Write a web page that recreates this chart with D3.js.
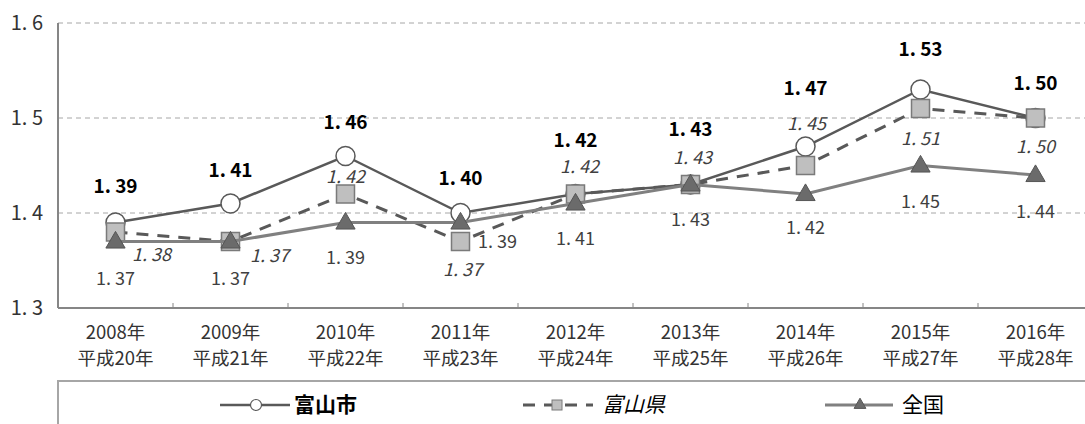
<!DOCTYPE html>
<html>
<head>
<meta charset="utf-8">
<script src="https://cdn.jsdelivr.net/npm/d3@7"></script>
<style>
  body { margin: 0; background: #fff; }
  svg { display: block; font-family: "Noto Sans CJK JP", sans-serif; }
</style>
</head>
<body>
<svg id="chart"></svg>
<script>
const size = {w: 1085, h: 424};

// categories
const years = ['2008年', '2009年', '2010年', '2011年', '2012年', '2013年', '2014年', '2015年', '2016年'];
const eras = ['平成20年', '平成21年', '平成22年', '平成23年', '平成24年', '平成25年', '平成26年', '平成27年', '平成28年'];

// series values
const toyamaCity = [1.39, 1.41, 1.46, 1.40, 1.42, 1.43, 1.47, 1.53, 1.50];
const toyamaPref = [1.38, 1.37, 1.42, 1.37, 1.42, 1.43, 1.45, 1.51, 1.50];
const national = [1.37, 1.37, 1.39, 1.39, 1.41, 1.43, 1.42, 1.45, 1.44];

const yTicks = [1.3, 1.4, 1.5, 1.6];

// label offsets (dx, dy) from each point, as Excel placed them
const cityLabelDy = [-36, -33, -34, -35, -54, -55, -58, -40, -35];
const prefLabelPos = [[36, 23], [39, 14], [0, -17], [2, 28], [4, -27], [2, -27], [1, -42], [0, 30], [0, 29]];
const natLabelPos = [[0, 37], [0, 37], [0, 35], [37, 19], [0, 35], [0, 35], [0, 34], [0, 36], [0, 37]];

const svg = d3.select('#chart')
    .attr('width', size.w)
    .attr('height', size.h);

const plot = {left: 58, right: 1093, top: 23, bottom: 308};

const x = d3.scaleBand()
    .domain(years)
    .range([plot.left, plot.right]);
const cx = d => x(d) + x.bandwidth() / 2;

const y = d3.scaleLinear()
    .domain([1.3, 1.6])
    .range([plot.bottom, plot.top]);

const fmt = v => v.toFixed(2).replace('.', '. ');

// gridlines
svg.append('g')
    .selectAll('line')
    .data(yTicks.slice(1))
    .join('line')
    .attr('x1', plot.left)
    .attr('x2', size.w)
    .attr('y1', d => y(d))
    .attr('y2', d => y(d))
    .attr('stroke', '#a6a6a6')
    .attr('stroke-width', 1)
    .attr('stroke-dasharray', '5,4');

// y tick labels
svg.append('g')
    .selectAll('text')
    .data(yTicks)
    .join('text')
    .attr('x', 43)
    .attr('y', d => y(d))
    .attr('dy', '0.35em')
    .attr('text-anchor', 'end')
    .attr('font-size', 20)
    .attr('fill', '#333')
    .text(d => d.toFixed(1).replace('.', '. '));

// axes lines
svg.append('line')
    .attr('x1', plot.left).attr('x2', plot.left)
    .attr('y1', plot.top).attr('y2', plot.bottom)
    .attr('stroke', '#868686').attr('stroke-width', 2);
svg.append('line')
    .attr('x1', plot.left).attr('x2', size.w)
    .attr('y1', plot.bottom).attr('y2', plot.bottom)
    .attr('stroke', '#868686').attr('stroke-width', 2);

// x ticks at band edges
svg.append('g')
    .selectAll('line')
    .data(years.slice(1))
    .join('line')
    .attr('x1', d => x(d)).attr('x2', d => x(d))
    .attr('y1', plot.bottom).attr('y2', plot.bottom - 5)
    .attr('stroke', '#868686').attr('stroke-width', 1);

// x labels
const xl = svg.append('g')
    .selectAll('text')
    .data(years)
    .join('text')
    .attr('text-anchor', 'middle')
    .attr('font-size', 18.5)
    .attr('fill', '#333');
xl.append('tspan')
    .attr('x', d => cx(d))
    .attr('y', 339)
    .text(d => d);
xl.append('tspan')
    .attr('x', d => cx(d))
    .attr('y', 365)
    .text((d, i) => eras[i]);

const line = d3.line()
    .x((d, i) => cx(years[i]))
    .y(d => y(d));

// 富山市
svg.append('path')
    .datum(toyamaCity)
    .attr('d', line)
    .attr('fill', 'none')
    .attr('stroke', '#595959')
    .attr('stroke-width', 2.5);
svg.append('g')
    .selectAll('circle')
    .data(toyamaCity)
    .join('circle')
    .attr('cx', (d, i) => cx(years[i]))
    .attr('cy', d => y(d))
    .attr('r', 9.5)
    .attr('fill', '#fff')
    .attr('stroke', '#595959')
    .attr('stroke-width', 1.5);

// 富山県
svg.append('path')
    .datum(toyamaPref)
    .attr('d', line)
    .attr('fill', 'none')
    .attr('stroke', '#595959')
    .attr('stroke-width', 3)
    .attr('stroke-dasharray', '12,9');
svg.append('g')
    .selectAll('rect')
    .data(toyamaPref)
    .join('rect')
    .attr('x', (d, i) => cx(years[i]) - 9)
    .attr('y', d => y(d) - 9)
    .attr('width', 18)
    .attr('height', 18)
    .attr('fill', '#bfbfbf')
    .attr('stroke', '#7a7a7a')
    .attr('stroke-width', 1.5);

// 全国
svg.append('path')
    .datum(national)
    .attr('d', line)
    .attr('fill', 'none')
    .attr('stroke', '#808080')
    .attr('stroke-width', 3);
const tri = d3.symbol().type(d3.symbolTriangle).size(160);
svg.append('g')
    .selectAll('path')
    .data(national)
    .join('path')
    .attr('d', tri)
    .attr('transform', (d, i) => `translate(${cx(years[i])},${y(d) + 1})`)
    .attr('fill', '#6b6b6b')
    .attr('stroke', '#555')
    .attr('stroke-width', 1);

// data labels
svg.append('g')
    .selectAll('text')
    .data(toyamaCity)
    .join('text')
    .attr('x', (d, i) => cx(years[i]))
    .attr('y', (d, i) => y(d) + cityLabelDy[i])
    .attr('dy', '0.35em')
    .attr('text-anchor', 'middle')
    .attr('font-size', 19)
    .attr('font-weight', 'bold')
    .attr('fill', '#000')
    .text(fmt);

svg.append('g')
    .selectAll('text')
    .data(toyamaPref)
    .join('text')
    .attr('x', (d, i) => cx(years[i]) + prefLabelPos[i][0])
    .attr('y', (d, i) => y(d) + prefLabelPos[i][1])
    .attr('dy', '0.35em')
    .attr('text-anchor', 'middle')
    .attr('font-size', 18)
    .attr('font-style', 'italic')
    .attr('fill', '#404040')
    .text(fmt);

svg.append('g')
    .selectAll('text')
    .data(national)
    .join('text')
    .attr('x', (d, i) => cx(years[i]) + natLabelPos[i][0])
    .attr('y', (d, i) => y(d) + natLabelPos[i][1])
    .attr('dy', '0.35em')
    .attr('text-anchor', 'middle')
    .attr('font-size', 18)
    .attr('fill', '#404040')
    .text(fmt);

// legend
svg.append('rect')
    .attr('x', 58).attr('y', 381)
    .attr('width', 1100).attr('height', 80)
    .attr('fill', 'none')
    .attr('stroke', '#a6a6a6')
    .attr('stroke-width', 2);

const ly = 405;
const lg = svg.append('g');
// city
lg.append('line').attr('x1', 220).attr('x2', 290).attr('y1', ly).attr('y2', ly)
    .attr('stroke', '#595959').attr('stroke-width', 2.5);
lg.append('circle').attr('cx', 256).attr('cy', ly).attr('r', 5.5)
    .attr('fill', '#fff').attr('stroke', '#595959').attr('stroke-width', 1.2);
lg.append('text').attr('x', 294).attr('y', ly).attr('dy', '0.35em')
    .attr('font-size', 21).attr('font-weight', 'bold').attr('fill', '#000').text('富山市');
// pref
lg.append('line').attr('x1', 523).attr('x2', 593).attr('y1', ly).attr('y2', ly)
    .attr('stroke', '#595959').attr('stroke-width', 3).attr('stroke-dasharray', '12,9');
lg.append('rect').attr('x', 552).attr('y', ly - 5).attr('width', 10).attr('height', 10)
    .attr('fill', '#bfbfbf').attr('stroke', '#7a7a7a').attr('stroke-width', 1);
lg.append('text').attr('x', 602).attr('y', ly).attr('dy', '0.35em')
    .attr('font-size', 21).attr('font-style', 'italic').attr('fill', '#000').text('富山県');
// national
lg.append('line').attr('x1', 825).attr('x2', 893).attr('y1', ly).attr('y2', ly)
    .attr('stroke', '#808080').attr('stroke-width', 3);
lg.append('path').attr('d', d3.symbol().type(d3.symbolTriangle).size(60))
    .attr('transform', `translate(860,${ly})`)
    .attr('fill', '#6b6b6b').attr('stroke', '#555').attr('stroke-width', 1);
lg.append('text').attr('x', 902).attr('y', ly).attr('dy', '0.35em')
    .attr('font-size', 21).attr('fill', '#000').text('全国');
</script>
</body>
</html>
